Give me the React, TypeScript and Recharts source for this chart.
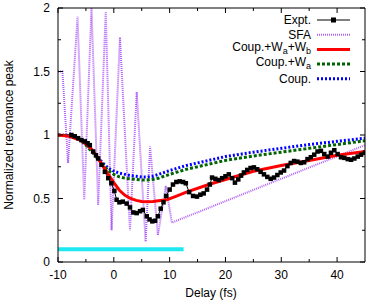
import { LineChart, Line, XAxis, YAxis } from 'recharts';

const FONT = "'Liberation Sans', Arial, Helvetica, sans-serif";

const X_TICKS = [-10, -5, 0, 5, 10, 15, 20, 25, 30, 35, 40];
const X_LABELS = [-10, 0, 10, 20, 30, 40];
const Y_TICKS = [0, 0.25, 0.5, 0.75, 1, 1.25, 1.5, 1.75, 2];
const Y_LABELS = [0, 0.5, 1, 1.5, 2];

// delay (fs), normalized peak
const EXPT: [number, number][] = [
  [-7.6, 1.0], [-7.0, 0.99], [-6.4, 0.975], [-5.8, 0.96], [-5.2, 0.95], [-4.7, 0.935], [-4.3, 0.92],
  [-3.7, 0.87], [-3.2, 0.84], [-2.8, 0.815], [-2.2, 0.765], [-1.6, 0.71], [-1.0, 0.66], [-0.45, 0.62],
  [0.1, 0.56], [0.5, 0.49], [1.0, 0.47], [1.6, 0.475], [2.3, 0.46], [2.9, 0.43], [3.5, 0.39],
  [4.1, 0.385], [4.7, 0.4], [5.2, 0.41], [5.9, 0.36], [6.4, 0.335], [6.9, 0.32], [7.4, 0.325],
  [7.9, 0.36], [8.4, 0.42], [8.9, 0.47], [9.4, 0.52], [10.0, 0.57], [10.6, 0.61], [11.2, 0.63],
  [11.8, 0.635], [12.4, 0.63], [12.9, 0.62], [13.5, 0.55], [14.2, 0.52], [14.9, 0.515], [15.5, 0.53],
  [16.1, 0.54], [16.7, 0.57], [17.2, 0.61], [17.6, 0.665], [18.2, 0.655], [18.8, 0.645], [19.4, 0.66],
  [20.0, 0.675], [20.6, 0.69], [21.2, 0.66], [21.7, 0.625], [22.3, 0.65], [22.8, 0.68], [23.3, 0.705],
  [23.9, 0.725], [24.5, 0.74], [25.1, 0.745], [25.7, 0.73], [26.3, 0.71], [26.9, 0.69], [27.5, 0.67],
  [28.1, 0.655], [28.7, 0.665], [29.3, 0.685], [29.9, 0.705], [30.5, 0.72], [31.1, 0.755], [31.7, 0.78],
  [32.3, 0.795], [32.9, 0.79], [33.5, 0.78], [34.1, 0.785], [34.7, 0.81], [35.3, 0.825], [35.9, 0.845],
  [36.5, 0.87], [37.1, 0.875], [37.7, 0.85], [38.3, 0.83], [38.9, 0.86], [39.5, 0.88], [40.1, 0.85],
  [40.7, 0.825], [41.3, 0.82], [41.9, 0.81], [42.5, 0.805], [43.1, 0.815], [43.7, 0.83], [44.3, 0.845],
  [45.0, 0.86],
];

const SFA: [number, number][] = [
  [-10, 1.5], [-9.2, 1.5], [-8.2, 0.78], [-6.5, 1.93], [-5.3, 0.49], [-4.0, 2.0], [-2.8, 0.45],
  [-1.45, 1.97], [-0.4, 0.25], [1.1, 1.77], [2.9, 0.25], [4.1, 1.34], [5.7, 0.16], [6.5, 0.91],
  [7.9, 0.21], [9.3, 0.6], [10.4, 0.31], [45, 0.92],
];

const COUP_WAB: [number, number][] = [
  [-10, 1.0], [-8, 0.99], [-6, 0.96], [-5, 0.93], [-4, 0.89], [-3, 0.83], [-2, 0.76], [-1, 0.69],
  [0, 0.625], [1, 0.565], [2, 0.525], [3, 0.5], [4, 0.485], [5, 0.477], [6, 0.475], [7, 0.477],
  [8, 0.482], [9.5, 0.49], [11, 0.515], [13, 0.55], [17, 0.61], [20, 0.65], [25, 0.715], [30, 0.76],
  [35, 0.8], [40, 0.84], [45, 0.87],
];

const COUP_WA: [number, number][] = [
  [-10, 1.0], [-8, 0.995], [-6, 0.96], [-5, 0.92], [-4, 0.87], [-3, 0.82], [-2, 0.77], [-1, 0.72],
  [0, 0.69], [1, 0.67], [2, 0.66], [3, 0.655], [4, 0.65], [5, 0.645], [6, 0.645], [7, 0.65],
  [8, 0.66], [10, 0.69], [13, 0.73], [16, 0.76], [20, 0.8], [25, 0.835], [30, 0.865], [35, 0.895],
  [40, 0.925], [45, 0.955],
];

const COUP: [number, number][] = [
  [-10, 1.0], [-8, 0.995], [-6, 0.965], [-5, 0.93], [-4, 0.88], [-3, 0.83], [-2, 0.78], [-1, 0.74],
  [0, 0.715], [1, 0.7], [2, 0.69], [3, 0.68], [4, 0.675], [5, 0.67], [6, 0.67], [7, 0.675],
  [8, 0.69], [10, 0.72], [13, 0.76], [16, 0.79], [20, 0.83], [25, 0.865], [30, 0.895], [35, 0.925],
  [40, 0.95], [45, 0.975],
];

const PULSE_BAR: [number, number][] = [[-10, 0.1], [12.5, 0.1]];

const toPts = (a: [number, number][]) => a.map(([x, y]) => ({ x, y }));

const TM = 10;
const txt = { fontFamily: FONT, fontSize: 12, fill: '#000' };

function BottomTick({ x, y, payload }: any) {
  const v = payload.value;
  const major = X_LABELS.includes(v);
  const ay = y - TM;
  return (
    <g>
      <line x1={x} x2={x} y1={ay} y2={ay - (major ? 5 : 3)} stroke="#000" />
      {major && <text x={x} y={ay + 17} textAnchor="middle" {...txt}>{v}</text>}
    </g>
  );
}

function TopTick({ x, y, payload }: any) {
  const major = X_LABELS.includes(payload.value);
  const ay = y + TM;
  return <line x1={x} x2={x} y1={ay} y2={ay + (major ? 5 : 3)} stroke="#000" />;
}

function LeftTick({ x, y, payload }: any) {
  const v = payload.value;
  const major = Y_LABELS.includes(v);
  const ax = x + TM;
  return (
    <g>
      <line x1={ax} x2={ax + (major ? 5 : 3)} y1={y} y2={y} stroke="#000" />
      {major && <text x={ax - 8} y={y + 4} textAnchor="end" {...txt}>{String(v)}</text>}
    </g>
  );
}

function RightTick({ x, y, payload }: any) {
  const major = Y_LABELS.includes(payload.value);
  const ax = x - TM;
  return <line x1={ax} x2={ax - (major ? 5 : 3)} y1={y} y2={y} stroke="#000" />;
}

const LEGEND = [
  { key: 'expt', color: '#000', width: 1, dash: undefined, marker: true },
  { key: 'sfa', color: '#b060f5', width: 2, dash: '1 1', marker: false },
  { key: 'wab', color: '#ff0000', width: 3, dash: undefined, marker: false },
  { key: 'wa', color: '#006400', width: 3, dash: '3 2', marker: false },
  { key: 'coup', color: '#0000ff', width: 3, dash: '2 2', marker: false },
];

function LegendLabel({ k, y }: { k: string; y: number }) {
  const common = { x: 311, textAnchor: 'end' as const, ...txt };
  if (k === 'expt') return <text {...common} y={y + 4}>Expt.</text>;
  if (k === 'sfa') return <text {...common} y={y + 4}>SFA</text>;
  if (k === 'wab')
    return (
      <text {...common} y={y + 2}>
        Coup.+W<tspan fontSize={9} dy={3}>a</tspan>
        <tspan dy={-3}>+W</tspan>
        <tspan fontSize={9} dy={3}>b</tspan>
      </text>
    );
  if (k === 'wa')
    return (
      <text {...common} y={y + 2}>
        Coup.+W<tspan fontSize={9} dy={3}>a</tspan>
      </text>
    );
  return <text {...common} y={y + 4}>Coup.</text>;
}

export default function App() {
  return (
    <div style={{ position: 'absolute', left: 0, top: 0, width: 374, height: 305, overflow: 'hidden', background: '#fff' }}>
      <LineChart width={374} height={305} margin={{ top: 3, right: 4, bottom: 13, left: 18 }}>
        <XAxis
          xAxisId="b" type="number" dataKey="x" domain={[-10, 45]} allowDataOverflow
          ticks={X_TICKS} interval={0} tick={BottomTick} tickLine={false} tickSize={0} tickMargin={TM}
          axisLine={{ stroke: '#000' }} height={30}
        />
        <XAxis
          xAxisId="t" orientation="top" type="number" dataKey="x" domain={[-10, 45]} allowDataOverflow
          ticks={X_TICKS} interval={0} tick={TopTick} tickLine={false} tickSize={0} tickMargin={TM}
          axisLine={{ stroke: '#000' }} height={5}
        />
        <YAxis
          yAxisId="l" type="number" domain={[0, 2]} allowDataOverflow
          ticks={Y_TICKS} interval={0} tick={LeftTick} tickLine={false} tickSize={0} tickMargin={TM}
          axisLine={{ stroke: '#000' }} width={40}
        />
        <YAxis
          yAxisId="r" orientation="right" type="number" domain={[0, 2]} allowDataOverflow
          ticks={Y_TICKS} interval={0} tick={RightTick} tickLine={false} tickSize={0} tickMargin={TM}
          axisLine={{ stroke: '#000' }} width={5}
        />
        <Line xAxisId="b" yAxisId="l" data={toPts(PULSE_BAR)} dataKey="y" stroke="#1ee8f0" strokeWidth={4}
          dot={false} isAnimationActive={false} />
        <Line xAxisId="t" yAxisId="r" data={toPts(SFA)} dataKey="y" stroke="#b060f5" strokeWidth={2}
          strokeDasharray="1 1" dot={false} isAnimationActive={false} />
        <Line xAxisId="b" yAxisId="l" data={toPts(EXPT)} dataKey="y" stroke="#000" strokeWidth={1}
          isAnimationActive={false}
          dot={(p: any) => <rect key={`e${p.index}`} x={p.cx - 2.25} y={p.cy - 2.25} width={4.5} height={4.5} fill="#000" />} />
        <Line xAxisId="b" yAxisId="l" data={toPts(COUP)} dataKey="y" stroke="#0000ff" strokeWidth={3}
          strokeDasharray="2 2" dot={false} isAnimationActive={false} />
        <Line xAxisId="b" yAxisId="l" data={toPts(COUP_WA)} dataKey="y" stroke="#006400" strokeWidth={3}
          strokeDasharray="3 2" dot={false} isAnimationActive={false} />
        <Line xAxisId="b" yAxisId="l" data={toPts(COUP_WAB)} dataKey="y" stroke="#ff0000" strokeWidth={3}
          dot={false} isAnimationActive={false} />
      </LineChart>
      <svg width={374} height={305} style={{ position: 'absolute', left: 0, top: 0, pointerEvents: 'none' }}>
        <text x={211} y={297} textAnchor="middle" {...txt}>Delay (fs)</text>
        <text x={13} y={135} textAnchor="middle" transform="rotate(-90 13 135)" {...txt}>
          Normalized resonance peak
        </text>
        {LEGEND.map((l, i) => {
          const y = 20 + i * 14.7;
          return (
            <g key={l.key}>
              <LegendLabel k={l.key} y={y} />
              <line x1={317} x2={350} y1={y} y2={y} stroke={l.color} strokeWidth={l.width} strokeDasharray={l.dash} />
              {l.marker && <rect x={331} y={y - 2.5} width={5} height={5} fill="#000" />}
            </g>
          );
        })}
      </svg>
    </div>
  );
}
